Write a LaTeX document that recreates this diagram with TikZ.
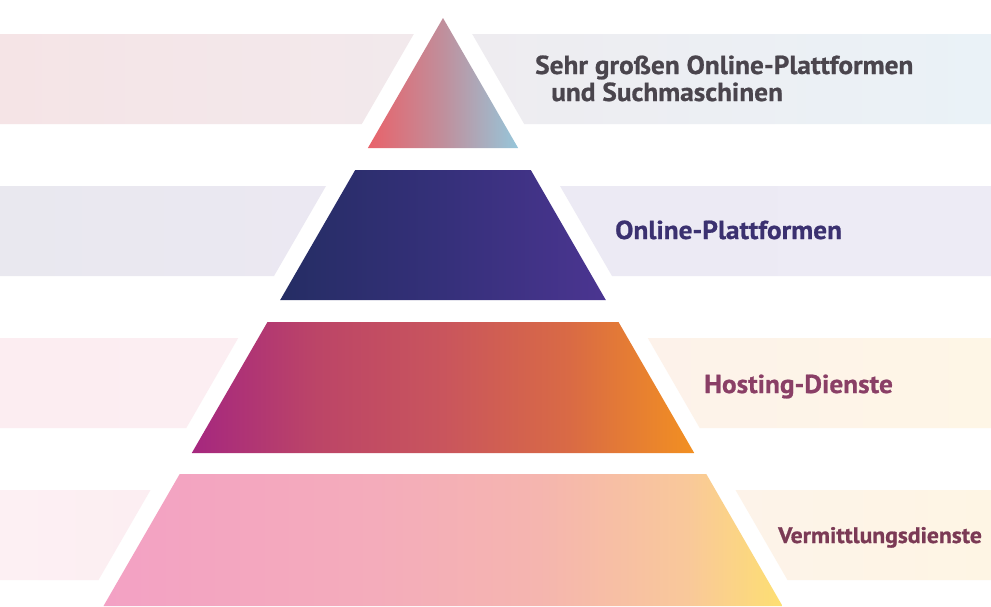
\documentclass[tikz,border=0pt]{standalone}
\usepackage{fontspec}
\setmainfont{PT Sans}
\newfontfamily\labelfont{PT Sans}[FakeStretch=1.05, BoldFeatures={FakeBold=0.8}]
\definecolor{txtgrey}{HTML}{4A454D}
\definecolor{txtpurple}{HTML}{3B3170}
\definecolor{txtplum}{HTML}{8A3F66}
\definecolor{txtwine}{HTML}{7B3A55}
\definecolor{ta}{HTML}{E9626A}\definecolor{tb}{HTML}{C08F9C}\definecolor{tc}{HTML}{96C6DA}
\definecolor{pa}{HTML}{252D64}\definecolor{pb}{HTML}{35307A}\definecolor{pc}{HTML}{4B3591}
\definecolor{ha}{HTML}{A5277F}\definecolor{hb}{HTML}{BC4567}\definecolor{hc}{HTML}{C9555D}\definecolor{hd}{HTML}{D96A45}\definecolor{he}{HTML}{F29021}
\definecolor{va}{HTML}{F3A1C4}\definecolor{vb}{HTML}{F4ACBB}\definecolor{vc}{HTML}{F5B5AF}\definecolor{vd}{HTML}{F9C89A}\definecolor{ve}{HTML}{FDDF72}
\pgfdeclarehorizontalshading{tierone}{100bp}{color(0bp)=(ta); color(25bp)=(ta); color(50bp)=(tb); color(75bp)=(tc); color(100bp)=(tc)}
\pgfdeclarehorizontalshading{tiertwo}{100bp}{color(0bp)=(pa); color(25bp)=(pa); color(50bp)=(pb); color(75bp)=(pc); color(100bp)=(pc)}
\pgfdeclarehorizontalshading{tierthree}{100bp}{color(0bp)=(ha); color(25bp)=(ha); color(37.5bp)=(hb); color(50bp)=(hc); color(62.5bp)=(hd); color(75bp)=(he); color(100bp)=(he)}
\pgfdeclarehorizontalshading{tierfour}{100bp}{color(0bp)=(va); color(25bp)=(va); color(45bp)=(vb); color(57bp)=(vc); color(68bp)=(vd); color(75bp)=(ve); color(100bp)=(ve)}
\tikzset{
  lbl/.style={inner sep=0pt, anchor=base west, font=\labelfont\bfseries\fontsize{26}{27}\selectfont},
}
\begin{document}
\begin{tikzpicture}[x=1pt,y=-1pt]
\useasboundingbox (0,0) rectangle (991,606);
\fill[white] (0,0) rectangle (991,606);
% bands, left and right parts
\shade[left color={rgb,255:red,245;green,228;blue,230}, right color={rgb,255:red,242;green,233;blue,236}]
  (0,34) -- (413.8,34) -- (361.8,124) -- (0,124) -- cycle;
\shade[left color={rgb,255:red,238;green,236;blue,240}, right color={rgb,255:red,234;green,242;blue,247}]
  (472.2,34) -- (991,34) -- (991,124) -- (524.2,124) -- cycle;
\shade[left color={rgb,255:red,233;green,232;blue,239}, right color={rgb,255:red,235;green,232;blue,242}]
  (0,186) -- (326,186) -- (274,276) -- (0,276) -- cycle;
\shade[left color={rgb,255:red,236;green,234;blue,244}, right color={rgb,255:red,237;green,235;blue,245}]
  (560,186) -- (991,186) -- (991,276) -- (612,276) -- cycle;
\shade[left color={rgb,255:red,252;green,237;blue,241}, right color={rgb,255:red,252;green,238;blue,242}]
  (0,338) -- (238.2,338) -- (186.3,428) -- (0,428) -- cycle;
\shade[left color={rgb,255:red,253;green,242;blue,234}, right color={rgb,255:red,254;green,246;blue,230}]
  (647.8,338) -- (991,338) -- (991,428) -- (699.7,428) -- cycle;
\shade[left color={rgb,255:red,253;green,240;blue,243}, right color={rgb,255:red,252;green,238;blue,242}]
  (0,490) -- (150.5,490) -- (98.5,580) -- (0,580) -- cycle;
\shade[left color={rgb,255:red,253;green,243;blue,233}, right color={rgb,255:red,254;green,245;blue,228}]
  (735.5,490) -- (991,490) -- (991,580) -- (787.5,580) -- cycle;
% pyramid tiers
\shade[shading=tierone] (443,18) -- (518.1,148) -- (367.9,148) -- cycle;
\shade[shading=tiertwo] (355.2,170) -- (530.8,170) -- (605.8,300) -- (280.2,300) -- cycle;
\shade[shading=tierthree] (267.5,322) -- (618.5,322) -- (694.2,453) -- (191.8,453) -- cycle;
\shade[shading=tierfour] (179.7,474) -- (706.3,474) -- (782.5,606) -- (103.5,606) -- cycle;
% labels
\node[lbl, text=txtgrey, align=left] (vlop) at (535,101) {Sehr großen Online-Plattformen\\\hspace*{16pt}und Suchmaschinen};
\node[lbl, text=txtpurple] (op) at (615,239) {Online-Plattformen};
\node[lbl, text=txtplum] (hd) at (704,393) {Hosting-Dienste};
\node[lbl, text=txtwine, font=\labelfont\bfseries\fontsize{22.5}{26}\selectfont] (vd) at (778,543) {Vermittlungsdienste};
\end{tikzpicture}
\end{document}
